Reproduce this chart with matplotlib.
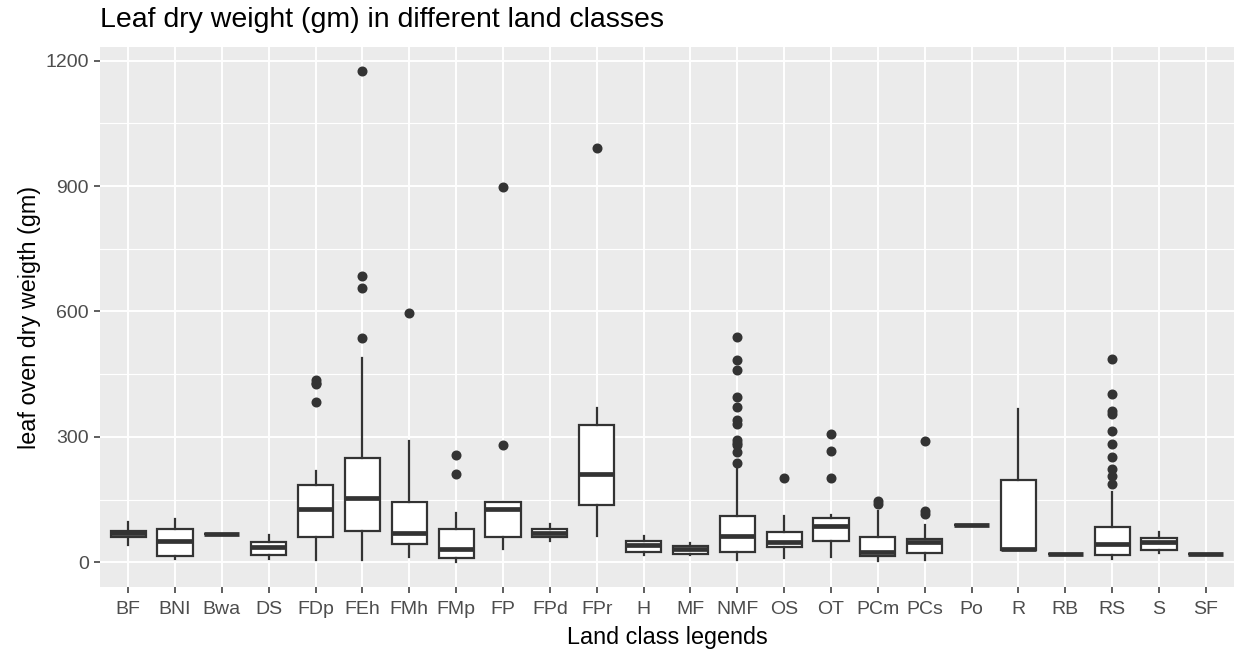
import matplotlib
matplotlib.use("Agg")
import matplotlib.pyplot as plt
from matplotlib.ticker import MultipleLocator

plt.rcParams['font.family'] = ['Liberation Sans', 'DejaVu Sans']

# Box statistics per land class (gm)
classes = ["BF", "BNI", "Bwa", "DS", "FDp", "FEh", "FMh", "FMp", "FP", "FPd", "FPr", "H",
           "MF", "NMF", "OS", "OT", "PCm", "PCs", "Po", "R", "RB", "RS", "S", "SF"]
whis_lo = [41, 8, 69, 8, 7, 7, 14, 2, 33, 52, 64, 17, 17, 7, 11, 14, 3, 7, 89, 29, 21, 8, 22, 21]
q1 = [60, 15, 69, 19, 61, 76, 43, 11, 61, 60, 137, 26, 21, 26, 37, 52, 15, 23, 89, 30, 21, 18, 30, 21]
median = [70, 51, 69, 36, 127, 154, 70, 32, 127, 71, 211, 41, 32, 64, 48, 87, 25, 48, 89, 33, 21, 45, 48, 21]
q3 = [76, 81, 69, 49, 186, 250, 145, 81, 145, 81, 328, 51, 39, 111, 73, 107, 61, 57, 89, 198, 21, 84, 58, 21]
whis_hi = [96, 103, 69, 65, 218, 488, 290, 119, 145, 92, 370, 63, 47, 228, 111, 113, 123, 89, 89, 366, 21, 169, 73, 21]
outliers = [
    [], [], [], [],
    [436, 430, 426, 383],
    [1174, 684, 657, 536],
    [597],
    [258, 212],
    [897, 281],
    [],
    [992],
    [], [],
    [540, 484, 460, 395, 372, 340, 332, 294, 286, 280, 263, 238],
    [202],
    [308, 266, 202],
    [148, 140],
    [290, 123, 117],
    [],
    [],
    [],
    [486, 402, 363, 355, 315, 283, 251, 224, 206, 187],
    [],
    [],
]

stats = []
for i, name in enumerate(classes):
    stats.append(dict(label=name, whislo=whis_lo[i], q1=q1[i], med=median[i],
                      q3=q3[i], whishi=whis_hi[i], fliers=outliers[i]))

W, H = 1236, 651
fig = plt.figure(figsize=(W / 100, H / 100), dpi=100)
ax = fig.add_axes([100 / W, 1 - 587 / H, 1134 / W, 540 / H])
ax.set_facecolor("#EBEBEB")

positions = list(range(1, len(classes) + 1))
ax.bxp(stats, positions=positions, widths=0.75, showcaps=False, patch_artist=True,
       boxprops=dict(facecolor="white", edgecolor="#333333", linewidth=1.6),
       whiskerprops=dict(color="#333333", linewidth=1.6),
       medianprops=dict(color="#333333", linewidth=3.4, solid_capstyle="butt"),
       flierprops=dict(marker="o", markersize=6.2, markerfacecolor="#333333",
                       markeredgecolor="#333333"),
       zorder=3)

ax.set_xlim(0.4, len(classes) + 0.6)
ax.set_ylim(-58.6, 1232.3)
ax.yaxis.set_major_locator(MultipleLocator(300))
ax.yaxis.set_minor_locator(MultipleLocator(150))
ax.grid(which="major", color="white", linewidth=1.4, zorder=0)
ax.grid(which="minor", axis="y", color="white", linewidth=0.8, zorder=0)
ax.set_axisbelow(True)
for s in ax.spines.values():
    s.set_visible(False)

ax.set_xticks(positions)
ax.set_xticklabels(classes)
ax.tick_params(axis="both", which="major", length=4, width=1.1, color="#333333",
               labelsize=14, labelcolor="#4D4D4D", pad=4)
ax.tick_params(axis="x", which="major", pad=6)
ax.tick_params(axis="y", which="minor", length=0)

ax.set_xlabel("Land class legends", fontsize=16.8, color="black", labelpad=6)
ax.set_ylabel("leaf oven dry weigth (gm)", fontsize=16.8, color="black", labelpad=3)
fig.text(100 / W, 1 - 20 / H, "Leaf dry weight (gm) in different land classes",
         fontsize=20.5, ha="left", va="center", color="black")

fig.savefig("out.png", dpi=100)
